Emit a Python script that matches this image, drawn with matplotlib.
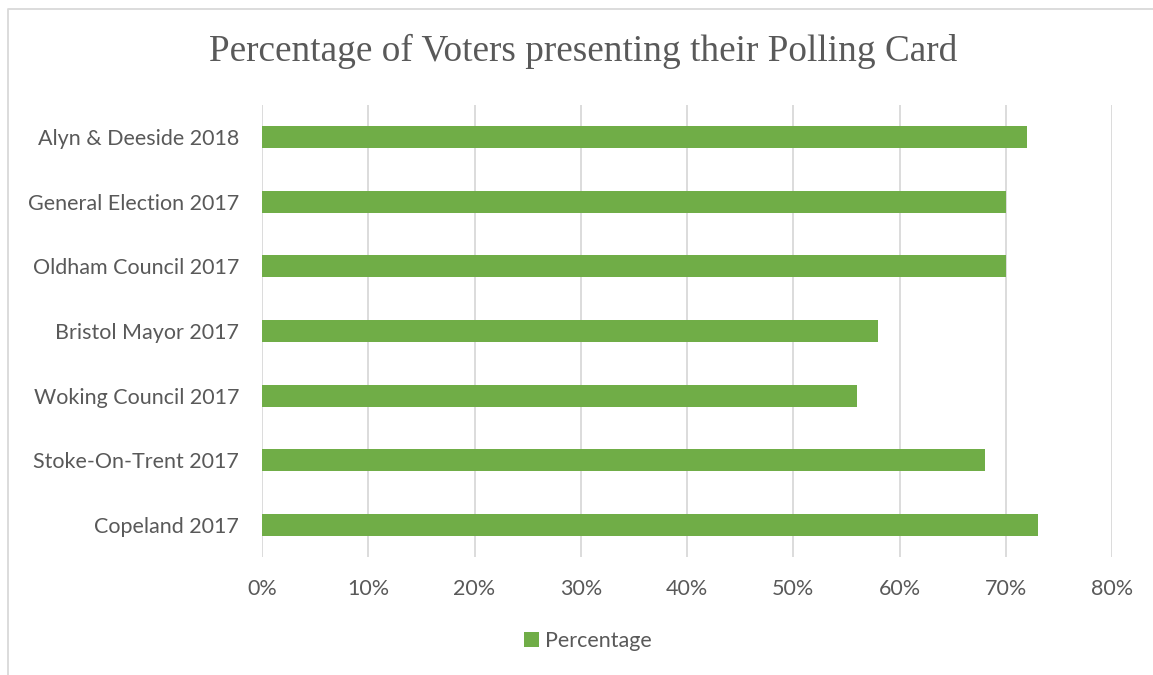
import matplotlib.pyplot as plt
from matplotlib.lines import Line2D
from matplotlib.ticker import FuncFormatter

# data
categories = [
    "Alyn & Deeside 2018", "General Election 2017", "Oldham Council 2017",
    "Bristol Mayor 2017", "Woking Council 2017", "Stoke-On-Trent 2017",
    "Copeland 2017",
]
percentages = [72, 70, 70, 58, 56, 68, 73]
x_ticks = [0, 10, 20, 30, 40, 50, 60, 70, 80]

BAR_COLOR = '#70AD47'
TEXT_COLOR = '#595959'
GRID_COLOR = '#D9D9D9'

plt.rcParams['font.family'] = 'Lato'

fig = plt.figure(figsize=(11.53, 6.75), dpi=100)
ax = fig.add_axes([262 / 1153, 1 - 557 / 675, 850 / 1153, 452 / 675])

# outer chart border (only top and left edges are visible in the crop)
fig.lines.append(Line2D([8 / 1153, 8 / 1153, 1], [0, 1 - 8.5 / 675, 1 - 8.5 / 675],
                        transform=fig.transFigure, color=GRID_COLOR, linewidth=1.3))

ypos = list(range(len(categories)))
ax.barh(ypos, percentages, height=0.34, color=BAR_COLOR, zorder=3,
        label='Percentage')
ax.set_yticks(ypos)
ax.set_yticklabels(categories)
ax.set_ylim(len(categories) - 0.5, -0.5)

ax.set_xlim(0, 80)
ax.set_xticks(x_ticks)
ax.xaxis.set_major_formatter(FuncFormatter(lambda v, p: f'{v:.0f}%'))
ax.grid(axis='x', color=GRID_COLOR, linewidth=1.3, zorder=0)
ax.tick_params(axis='both', length=0, labelsize=15.5, colors=TEXT_COLOR)
ax.tick_params(axis='x', pad=16)
ax.tick_params(axis='y', pad=16.5)
for s in ax.spines.values():
    s.set_visible(False)

fig.text(583 / 1153, 1 - 51 / 675, 'Percentage of Voters presenting their Polling Card',
         ha='center', va='center', fontsize=26.8, color=TEXT_COLOR,
         family='Liberation Serif')

fig.legend(loc='center', bbox_to_anchor=(588 / 1153, 1 - 641 / 675), frameon=False,
           fontsize=15.5, labelcolor=TEXT_COLOR, handlelength=0.7, handleheight=0.7,
           handletextpad=0.3)

fig.savefig('out.png', dpi=100)
